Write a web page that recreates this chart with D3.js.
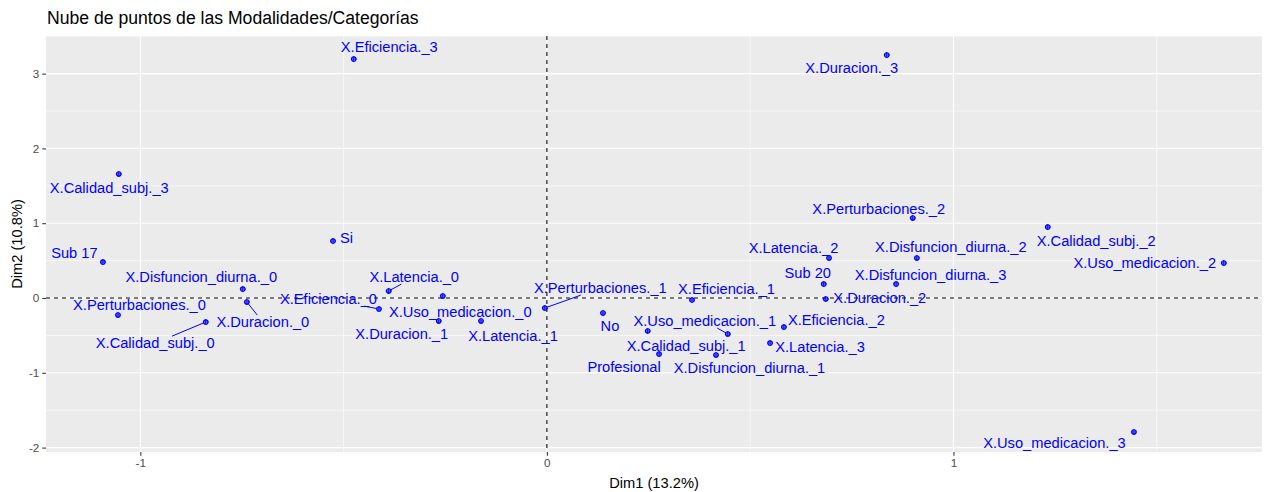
<!DOCTYPE html>
<html>
<head>
<meta charset="utf-8">
<script src="https://cdn.jsdelivr.net/npm/d3@7"></script>
<style>
  body { margin: 0; background: #fff; }
  text { font-family: "Liberation Sans", Arial, sans-serif; }
</style>
</head>
<body>
<svg id="chart" width="1267" height="492"></svg>
<script>
// categories / modalities and their coordinates on the first two dimensions
var labels = [
  "X.Eficiencia._3", "X.Duracion._3", "X.Calidad_subj._3", "Sub 17", "Si",
  "X.Disfuncion_diurna._0", "X.Duracion._0", "X.Perturbaciones._0", "X.Calidad_subj._0",
  "X.Eficiencia._0", "X.Latencia._0", "X.Uso_medicacion._0", "X.Duracion._1", "X.Latencia._1",
  "X.Perturbaciones._1", "No", "X.Calidad_subj._1", "Profesional", "X.Uso_medicacion._1",
  "X.Disfuncion_diurna._1", "X.Eficiencia._1", "X.Eficiencia._2", "X.Latencia._3", "Sub 20",
  "X.Duracion._2", "X.Disfuncion_diurna._3", "X.Latencia._2", "X.Disfuncion_diurna._2",
  "X.Perturbaciones._2", "X.Calidad_subj._2", "X.Uso_medicacion._2", "X.Uso_medicacion._3"
];
var dim1 = [
  -0.475, 0.836, -1.053, -1.092, -0.526,
  -0.748, -0.738, -1.055, -0.839,
  -0.413, -0.389, -0.256, -0.266, -0.162,
  -0.005, 0.138, 0.248, 0.276, 0.445,
  0.416, 0.357, 0.583, 0.549, 0.681,
  0.686, 0.859, 0.694, 0.910,
  0.900, 1.232, 1.665, 1.444
];
var dim2 = [
  3.195, 3.249, 1.658, 0.481, 0.762,
  0.120, -0.053, -0.227, -0.321,
  -0.147, 0.094, 0.027, -0.307, -0.307,
  -0.134, -0.200, -0.441, -0.749, -0.481,
  -0.762, -0.027, -0.388, -0.602, 0.187,
  -0.013, 0.187, 0.535, 0.535,
  1.070, 0.949, 0.468, -1.791
];
var xTicks = [-1, 0, 1];
var yTicks = [-2, -1, 0, 1, 2, 3];

// repel-style label placement (pixel offsets of label centre from its point)
var labelNudge = [
  [35.5, -12], [-35, 13], [-9.5, 14], [-28.5, -9], [13.5, -3],
  [-41.5, -12], [16, 20], [21.5, -10], [-50.5, 21],
  [-50.5, -10], [25.5, -14], [17.5, 16], [-37, 13], [32, 15],
  [55.5, -20], [7, 13], [38.5, 15], [-35, 13], [-23, -13],
  [33.5, 13], [34.5, -11], [52.5, -7], [50, 4], [-16, -11],
  [54, -1], [34.5, -9], [-35.5, -10], [34, -11],
  [-34, -9], [48.5, 14], [-79, 0], [-79.5, 11]
];
var withSegment = ["X.Duracion._0", "X.Calidad_subj._0", "X.Eficiencia._0",
  "X.Latencia._0", "X.Perturbaciones._1", "X.Uso_medicacion._1"];

var svg = d3.select("#chart");
var panel = { left: 46, right: 1262, top: 36, bottom: 452 };

var x = d3.scaleLinear().domain([-1.232, 1.759]).range([panel.left, panel.right]);
var y = d3.scaleLinear().domain([-2.059, 3.503]).range([panel.bottom, panel.top]);

var points = labels.map(function(l, i) {
  return { label: l, x: dim1[i], y: dim2[i], dx: labelNudge[i][0], dy: labelNudge[i][1] };
});

// panel background
svg.append("rect")
  .attr("x", panel.left).attr("y", panel.top)
  .attr("width", panel.right - panel.left).attr("height", panel.bottom - panel.top)
  .attr("fill", "#EBEBEB");

var grid = svg.append("g");
var xMinor = [-0.5, 0.5, 1.5];
var yMinor = [-1.5, -0.5, 0.5, 1.5, 2.5, 3.5];

grid.selectAll("line.xminor").data(xMinor).enter().append("line")
  .attr("x1", function(d) { return x(d); }).attr("x2", function(d) { return x(d); })
  .attr("y1", panel.top).attr("y2", panel.bottom)
  .attr("stroke", "#fff").attr("stroke-width", 0.6);
grid.selectAll("line.yminor").data(yMinor).enter().append("line")
  .attr("y1", function(d) { return y(d); }).attr("y2", function(d) { return y(d); })
  .attr("x1", panel.left).attr("x2", panel.right)
  .attr("stroke", "#fff").attr("stroke-width", 0.6);
grid.selectAll("line.xmajor").data(xTicks).enter().append("line")
  .attr("x1", function(d) { return x(d); }).attr("x2", function(d) { return x(d); })
  .attr("y1", panel.top).attr("y2", panel.bottom)
  .attr("stroke", "#fff").attr("stroke-width", 1.1);
grid.selectAll("line.ymajor").data(yTicks).enter().append("line")
  .attr("y1", function(d) { return y(d); }).attr("y2", function(d) { return y(d); })
  .attr("x1", panel.left).attr("x2", panel.right)
  .attr("stroke", "#fff").attr("stroke-width", 1.1);

// axes
var xAxis = d3.axisBottom(x).tickValues(xTicks).tickSize(3.7).tickPadding(3).tickFormat(d3.format("d"));
var yAxis = d3.axisLeft(y).tickValues(yTicks).tickSize(3.7).tickPadding(3).tickFormat(d3.format("d"));

var gx = svg.append("g").attr("transform", "translate(0," + panel.bottom + ")").call(xAxis);
var gy = svg.append("g").attr("transform", "translate(" + panel.left + ",0)").call(yAxis);
[gx, gy].forEach(function(g) {
  g.select(".domain").remove();
  g.selectAll(".tick line").attr("stroke", "#333333").attr("stroke-width", 1.07);
  g.selectAll(".tick text").attr("fill", "#4D4D4D").style("font-size", "11.7px")
    .style("font-family", "'Liberation Sans', Arial, sans-serif");
});
gx.selectAll(".tick text").text(function(d) { return d < 0 ? "-" + Math.abs(d) : d; });
gy.selectAll(".tick text").text(function(d) { return d < 0 ? "-" + Math.abs(d) : d; });

// reference lines through the origin
svg.append("line")
  .attr("x1", panel.left).attr("x2", panel.right)
  .attr("y1", y(0)).attr("y2", y(0))
  .attr("stroke", "#000").attr("stroke-width", 1.07).attr("stroke-dasharray", "4,4");
svg.append("line")
  .attr("x1", x(0)).attr("x2", x(0))
  .attr("y1", panel.top).attr("y2", panel.bottom)
  .attr("stroke", "#000").attr("stroke-width", 1.07).attr("stroke-dasharray", "4,4");

// labels
var labelG = svg.append("g");
var texts = labelG.selectAll("text").data(points).enter().append("text")
  .attr("x", function(d) { return x(d.x) + d.dx; })
  .attr("y", function(d) { return y(d.y) + d.dy; })
  .attr("dy", "0.35em")
  .attr("text-anchor", "middle")
  .attr("fill", "#0000FF")
  .style("font-size", "14.67px")
  .text(function(d) { return d.label; });

// segments from label box to point
var segG = svg.append("g");
texts.each(function(d) {
  if (withSegment.indexOf(d.label) < 0) return;
  var b = this.getBBox();
  var cx = b.x + b.width / 2, cy = b.y + b.height / 2;
  var px = x(d.x), py = y(d.y);
  var vx = px - cx, vy = py - cy;
  var tx = vx !== 0 ? (b.width / 2 + 1) / Math.abs(vx) : Infinity;
  var ty = vy !== 0 ? (b.height / 2 - 1) / Math.abs(vy) : Infinity;
  var t = Math.min(tx, ty);
  var sx = cx + vx * t, sy = cy + vy * t;
  var len = Math.sqrt((px - sx) * (px - sx) + (py - sy) * (py - sy));
  var ex = px - (px - sx) / len * 2, ey = py - (py - sy) / len * 2;
  segG.append("line")
    .attr("x1", sx).attr("y1", sy).attr("x2", ex).attr("y2", ey)
    .attr("stroke", "#0000FF").attr("stroke-width", 1);
});

// points (circle with cross)
var pts = svg.append("g").selectAll("g").data(points).enter().append("g")
  .attr("transform", function(d) { return "translate(" + x(d.x) + "," + y(d.y) + ")"; });
pts.append("circle").attr("r", 2.2).attr("fill", "none").attr("stroke", "#0000FF").attr("stroke-width", 1.2);
pts.append("path").attr("d", "M-3,0H3M0,-3V3").attr("stroke", "#0000FF").attr("stroke-width", 1);

// titles
svg.append("text")
  .attr("x", 47).attr("y", 18).attr("dy", "0.35em")
  .attr("fill", "#000").style("font-size", "17.6px")
  .text("Nube de puntos de las Modalidades/Categorías");
svg.append("text")
  .attr("x", (panel.left + panel.right) / 2).attr("y", 483).attr("dy", "0.35em")
  .attr("text-anchor", "middle").attr("fill", "#000").style("font-size", "14.67px")
  .text("Dim1 (13.2%)");
svg.append("text")
  .attr("transform", "translate(17," + (panel.top + panel.bottom) / 2 + ") rotate(-90)")
  .attr("dy", "0.35em")
  .attr("text-anchor", "middle").attr("fill", "#000").style("font-size", "14.67px")
  .text("Dim2 (10.8%)");
</script>
</body>
</html>
